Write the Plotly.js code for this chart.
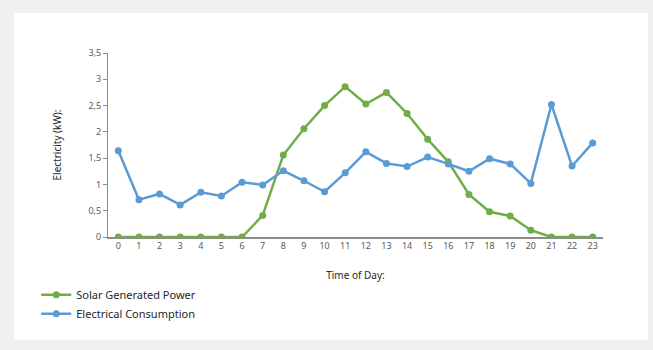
<!DOCTYPE html>
<html>
<head>
<meta charset="utf-8">
<script src="https://cdn.plot.ly/plotly-3.0.1.min.js"></script>
<style>
html,body{margin:0;padding:0;background:#f0f0f0;width:653px;height:350px;overflow:hidden;}
#chart{position:absolute;left:14px;top:13px;width:634px;height:327px;}
</style>
</head>
<body>
<div id="chart"></div>
<script>
const hours = ["0","1","2","3","4","5","6","7","8","9","10","11","12","13","14","15","16","17","18","19","20","21","22","23"];
const solarPower = [0,0,0,0,0,0,0,0.41,1.56,2.06,2.50,2.86,2.53,2.75,2.35,1.86,1.43,0.81,0.48,0.40,0.13,0,0,0];
const consumption = [1.64,0.71,0.82,0.61,0.85,0.78,1.04,0.99,1.26,1.07,0.86,1.22,1.62,1.40,1.34,1.52,1.39,1.25,1.49,1.39,1.02,2.52,1.35,1.79];
const yTicks = [0,0.5,1,1.5,2,2.5,3,3.5];

const font = "Noto Sans, Open Sans, sans-serif";
const traces = [
  {x: hours, y: solarPower, name: "Solar Generated Power", type: "scatter", mode: "lines+markers",
   line: {color: "#70ad47", width: 2.5}, marker: {color: "#70ad47", size: 7}},
  {x: hours, y: consumption, name: "Electrical Consumption", type: "scatter", mode: "lines+markers",
   line: {color: "#5b9bd5", width: 2.5}, marker: {color: "#5b9bd5", size: 7}}
];
const layout = {
  width: 634, height: 327,
  margin: {l: 94, r: 45, t: 40, b: 98},
  paper_bgcolor: "#ffffff", plot_bgcolor: "#ffffff",
  separators: ", ",
  font: {family: font, size: 9, color: "#595959"},
  showlegend: true,
  legend: {x: -0.145, y: -0.235, xanchor: "left", yanchor: "top", orientation: "v",
    font: {family: font, size: 11, color: "#262626"}, bgcolor: "rgba(0,0,0,0)", tracegroupgap: 0},
  xaxis: {type: "category", range: [-0.5, 23.5], showgrid: false, zeroline: false,
    showline: true, linecolor: "#8c8c8c", linewidth: 1.5, ticks: "", tickfont: {size: 9, color: "#595959"},
    title: {text: "Time of Day:", font: {family: font, size: 10, color: "#262626"}, standoff: 20}},
  yaxis: {range: [0, 3.5], tickvals: yTicks, showgrid: false, zeroline: false,
    showline: true, linecolor: "#8c8c8c", linewidth: 1, ticks: "outside", ticklen: 4, tickcolor: "#8c8c8c",
    tickfont: {size: 9, color: "#595959"},
    title: {text: "Electricity (kW):", font: {family: font, size: 10, color: "#262626"}, standoff: 24}}
};
Plotly.newPlot("chart", traces, layout, {displayModeBar: false, staticPlot: true});
</script>
</body>
</html>
